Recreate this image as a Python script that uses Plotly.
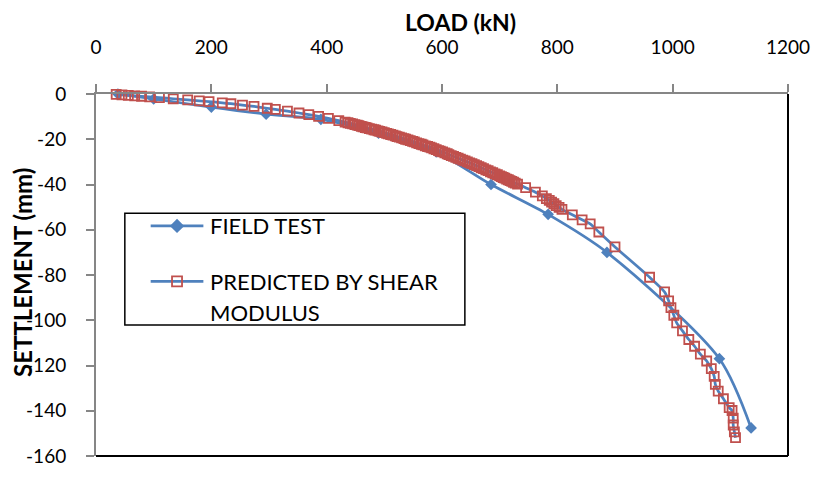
import plotly.graph_objects as go

# Load-settlement data
field_load = [38, 100, 200, 295, 390, 490, 590, 685, 784, 886, 1081, 1136]
field_settlement = [0, -2.2, -5.8, -8.9, -11.2, -17.3, -25.6, -40.0, -53.2, -70.0, -117.0, -147.6]

pred_load = [35, 45, 56, 67, 79, 93, 110, 134, 159, 179, 196, 219, 234, 254, 274, 297, 311,
             332, 352, 369, 386, 403, 421, 432, 437, 441, 445, 449, 453, 456, 460, 463, 467,
             470, 474, 478, 482, 485, 489, 492, 496, 500, 504, 507, 511, 515, 519, 522, 526,
             530, 534, 537, 541, 545, 549, 552, 556, 560, 564, 567, 571, 575, 579, 582, 586,
             590, 594, 597, 601, 605, 609, 612, 616, 620, 624, 628, 632, 636, 640, 644, 648,
             652, 656, 660, 664, 668, 672, 676, 680, 684, 688, 692, 696, 700, 703, 706, 709,
             712, 715, 718, 721, 724, 727, 731, 745, 762, 774, 781, 786, 790, 794, 798, 803,
             808, 826, 843, 857, 872, 900, 960, 986, 993, 997, 1002, 1007, 1017, 1028, 1038,
             1048, 1059, 1067, 1072, 1074, 1079, 1088, 1098, 1103, 1105, 1105, 1107, 1109]
pred_settlement = [-0.2, -0.4, -0.6, -0.8, -1.0, -1.3, -1.6, -2.1, -2.6, -3.0, -3.4, -3.9, -4.3,
                   -4.9, -5.5, -6.3, -6.8, -7.6, -8.4, -9.1, -9.9, -10.8, -11.8, -12.4, -12.7,
                   -13.0, -13.2, -13.5, -13.8, -14.0, -14.3, -14.5, -14.8, -15.0, -15.3, -15.5,
                   -15.8, -16.0, -16.3, -16.5, -16.8, -17.1, -17.4, -17.6, -17.9, -18.2, -18.5,
                   -18.8, -19.1, -19.4, -19.7, -20.0, -20.3, -20.6, -20.9, -21.2, -21.6, -21.9,
                   -22.2, -22.5, -22.9, -23.2, -23.5, -23.8, -24.2, -24.6, -25.0, -25.3, -25.6,
                   -26.0, -26.4, -26.8, -27.2, -27.6, -28.0, -28.4, -28.8, -29.2, -29.6, -30.0,
                   -30.4, -30.8, -31.2, -31.7, -32.1, -32.6, -33.0, -33.5, -33.9, -34.4, -34.8,
                   -35.3, -35.7, -36.2, -36.5, -36.9, -37.2, -37.6, -37.9, -38.3, -38.6, -39.0,
                   -39.4, -39.8, -41.4, -43.4, -45.0, -46.2, -47.0, -47.8, -48.5, -49.3, -50.1,
                   -51.0, -53.4, -55.6, -57.4, -61.0, -67.6, -81.0, -87.5, -91.4, -94.4, -97.8,
                   -101.2, -104.7, -108.5, -111.5, -115.0, -118.0, -121.4, -124.8, -128.3,
                   -131.3, -134.7, -138.6, -139.9, -143.3, -146.3, -149.3, -151.9]

x_ticks = [0, 200, 400, 600, 800, 1000, 1200]
y_ticks = [0, -20, -40, -60, -80, -100, -120, -140, -160]
y_tick_text = ["0", "-20", "-40", "-60", "-80", "-100", "-120", "-140", "-160"]

BLUE = "#4F81BD"
RED = "#C0504D"
AXIS_GREY = "#868686"
FONT = "Lato"

W, H = 821, 478
L, R, T, B = 96, 29, 94, 11
PW, PH = W - L - R, H - T - B


def px(x):
    return (x - L) / PW


def py(y):
    return (H - B - y) / PH


fig = go.Figure()

fig.add_trace(go.Scatter(
    x=field_load, y=field_settlement, mode="lines+markers", name="FIELD TEST",
    line=dict(color=BLUE, width=2.75, shape="spline", smoothing=0.8),
    marker=dict(symbol="diamond", size=9, color=BLUE),
    cliponaxis=False, showlegend=False,
))
fig.add_trace(go.Scatter(
    x=pred_load, y=pred_settlement, mode="lines+markers", name="PREDICTED BY SHEAR MODULUS",
    line=dict(color=BLUE, width=2.75, shape="spline", smoothing=0.8),
    marker=dict(symbol="square-open", size=9, color=RED, line=dict(width=1.8, color=RED)),
    cliponaxis=False, showlegend=False,
))

# Legend samples drawn on an overlay axis in paper units
leg_x0, leg_x1, leg_xm = 151, 204, 177.5
for yy, sym, col, fill in [(230, "diamond", BLUE, BLUE), (287, "square-open", RED, RED)]:
    fig.add_trace(go.Scatter(
        x=[px(leg_x0), px(leg_x1)], y=[py(yy), py(yy)], mode="lines",
        line=dict(color=BLUE, width=2.75), xaxis="x2", yaxis="y2", showlegend=False,
        hoverinfo="skip", cliponaxis=False,
    ))
    fig.add_trace(go.Scatter(
        x=[px(leg_xm)], y=[py(yy)], mode="markers",
        marker=dict(symbol=sym, size=9 if sym == "diamond" else 10, color=fill,
                    line=dict(width=1.8, color=col)),
        xaxis="x2", yaxis="y2", showlegend=False, hoverinfo="skip", cliponaxis=False,
    ))

fig.add_shape(type="rect", xref="paper", yref="paper",
              x0=px(125), x1=px(467), y0=py(332), y1=py(217),
              line=dict(color="black", width=1.5), fillcolor="white", layer="below")

for txt, yy in [("FIELD TEST", 230), ("PREDICTED BY SHEAR", 287), ("MODULUS", 319)]:
    fig.add_annotation(text=txt, xref="paper", yref="paper", x=px(209), y=py(yy),
                       xanchor="left", yanchor="middle", showarrow=False,
                       font=dict(family=FONT, size=22, color="black"))

# Plot-area frame on the right and bottom
fig.add_shape(type="line", xref="paper", yref="paper", x0=1, x1=1, y0=0, y1=1,
              line=dict(color="black", width=2))
fig.add_shape(type="line", xref="paper", yref="paper", x0=0, x1=1, y0=0, y1=0,
              line=dict(color="black", width=2))

# Axis titles
fig.add_annotation(text="<b>LOAD (kN)</b>", xref="paper", yref="paper", x=px(463), y=py(20),
                   xanchor="center", yanchor="middle", showarrow=False,
                   font=dict(family=FONT, size=23, color="black"))
fig.add_annotation(text="<b>SETTLEMENT (mm)</b>", xref="paper", yref="paper", x=px(22), y=py(278),
                   xanchor="center", yanchor="middle", showarrow=False, textangle=-90,
                   font=dict(family=FONT, size=24, color="black"))

fig.update_layout(
    width=W, height=H, margin=dict(l=L, r=R, t=T, b=B),
    paper_bgcolor="white", plot_bgcolor="white",
    font=dict(family=FONT, size=19, color="black"),
    xaxis=dict(range=[0, 1200], side="top", tickvals=x_ticks, ticks="outside", ticklen=8,
               tickcolor=AXIS_GREY, tickwidth=1.5, showline=True, linecolor=AXIS_GREY,
               linewidth=2, showgrid=False, zeroline=False, ticklabelstandoff=22),
    yaxis=dict(range=[-160, 0], tickvals=y_ticks, ticktext=y_tick_text, ticks="outside",
               ticklen=8, tickcolor=AXIS_GREY, tickwidth=1.5, showline=True,
               linecolor=AXIS_GREY, linewidth=2, showgrid=False, zeroline=False,
               ticklabelstandoff=16),
    xaxis2=dict(range=[0, 1], overlaying="x", visible=False),
    yaxis2=dict(range=[0, 1], overlaying="y", visible=False),
)

fig.write_html("out.html")
